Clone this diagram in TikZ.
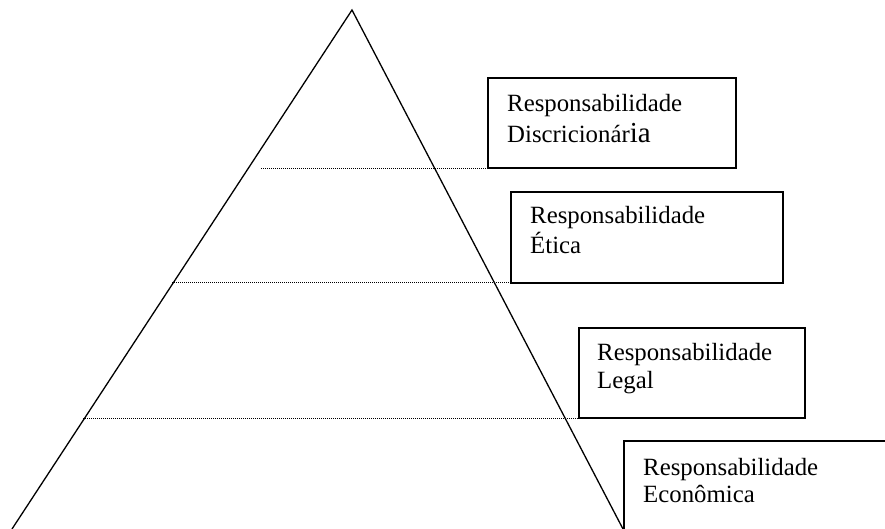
\documentclass[tikz,border=0pt]{standalone}
\usepackage{fontspec}
\setmainfont{Liberation Serif}
\begin{document}
\begin{tikzpicture}[x=1pt,y=-1pt,
  edge/.style={line width=1.3pt, line join=miter},
  level/.style={line width=0.9pt, dash pattern=on 1pt off 1pt},
  tier/.style={draw, line width=1.6pt, rectangle, inner sep=0pt, anchor=north west},
  caption/.style={anchor=base west, inner sep=0pt, font=\fontsize{24.8}{30}\selectfont}]
\useasboundingbox (0,0) rectangle (885,529);
\clip (0,0) rectangle (885,529);

% pyramid outline
\coordinate (apex) at (352,10);
\coordinate (footL) at (12,529);
\coordinate (footR) at (623,529);
\draw[edge] (footL) -- (apex) -- (footR);

% level separators
\coordinate (s1a) at (261,168.5); \coordinate (s1b) at (663,168.5);
\coordinate (s2a) at (172,282.5); \coordinate (s2b) at (600,282.5);
\coordinate (s3a) at (83,418.5);  \coordinate (s3b) at (757,418.5);
\draw[level] (s1a) -- (s1b);
\draw[level] (s2a) -- (s2b);
\draw[level] (s3a) -- (s3b);

% responsibility boxes
\node[tier, minimum width=248pt, minimum height=90pt] (b1) at (487,77) {};
\node[tier, minimum width=272pt, minimum height=91pt] (b2) at (510,191) {};
\node[tier, minimum width=226pt, minimum height=90pt] (b3) at (578,327) {};
\node[tier, minimum width=320pt, minimum height=130pt] (b4) at (623,440) {};

% box texts
\node[caption] (t1a) at (507,112) {Responsabilidade};
\node[caption] (t1b) at (507,143) {Discricionár{\fontsize{29}{30}\selectfont ia}};
\node[caption] (t2a) at (530,224) {Responsabilidade};
\node[caption] (t2b) at (530,253) {Ética};
\node[caption] (t3a) at (597,360) {Responsabilidade};
\node[caption] (t3b) at (597,388) {Legal};
\node[caption] (t4a) at (643,475) {Responsabilidade};
\node[caption] (t4b) at (643,502) {Econômica};
\end{tikzpicture}
\end{document}
